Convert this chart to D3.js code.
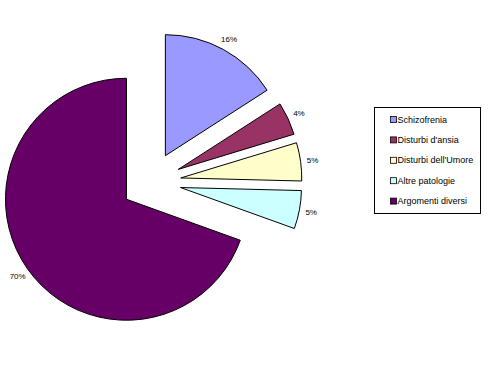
<!DOCTYPE html>
<html>
<head>
<meta charset="utf-8">
<script src="https://cdn.jsdelivr.net/npm/d3@7"></script>
<style>
  body { margin: 0; background: #fff; }
  text { font-family: "Liberation Sans", Arial, sans-serif; }
</style>
</head>
<body>
<div id="chart"></div>
<script>
const width = 494;
const height = 368;

// Data
const categories = ["Schizofrenia", "Disturbi d'ansia", "Disturbi dell'Umore", "Altre patologie", "Argomenti diversi"];
const values = [15.9, 4.4, 5.1, 5.1, 69.5];
const colors = ["#9999ff", "#993366", "#ffffcc", "#ccffff", "#660066"];

const cx = 151, cy = 182;
const radius = 121;
const explode = 30;
const labelRadius = 133;

const svg = d3.select("#chart")
  .append("svg")
  .attr("width", width)
  .attr("height", height);

svg.append("rect")
  .attr("width", width)
  .attr("height", height)
  .attr("fill", "#fff");

const data = categories.map((c, i) => ({ name: c, value: values[i], color: colors[i] }));

const pie = d3.pie()
  .value(d => d.value)
  .sort(null);

const arc = d3.arc()
  .innerRadius(0)
  .outerRadius(radius);

const slices = svg.append("g")
  .attr("transform", `translate(${cx},${cy})`)
  .selectAll("g")
  .data(pie(data))
  .enter()
  .append("g")
  .attr("transform", d => {
    const mid = (d.startAngle + d.endAngle) / 2;
    return `translate(${explode * Math.sin(mid)},${-explode * Math.cos(mid)})`;
  });

slices.append("path")
  .attr("d", arc)
  .attr("fill", d => d.data.color)
  .attr("stroke", "#000")
  .attr("stroke-width", 1);

// percentage labels outside each slice
slices.append("text")
  .attr("x", d => labelRadius * Math.sin((d.startAngle + d.endAngle) / 2))
  .attr("y", d => -labelRadius * Math.cos((d.startAngle + d.endAngle) / 2))
  .attr("text-anchor", "middle")
  .attr("dy", "0.35em")
  .style("font-size", "8px")
  .text(d => Math.round(d.data.value) + "%");

// Legend
const legend = svg.append("g")
  .attr("transform", "translate(374.5,107.5)");

legend.append("rect")
  .attr("width", 106)
  .attr("height", 106)
  .attr("fill", "#fff")
  .attr("stroke", "#000")
  .attr("stroke-width", 1);

const items = legend.selectAll(".item")
  .data(data)
  .enter()
  .append("g")
  .attr("class", "item")
  .attr("transform", (d, i) => `translate(16,${12 + i * 20.4})`);

items.append("rect")
  .attr("x", 0)
  .attr("y", -3)
  .attr("width", 6)
  .attr("height", 6)
  .attr("fill", d => d.color)
  .attr("stroke", "#000")
  .attr("stroke-width", 0.8);

items.append("text")
  .attr("x", 7)
  .attr("dy", "0.35em")
  .style("font-size", "9px")
  .text(d => d.name);
</script>
</body>
</html>
